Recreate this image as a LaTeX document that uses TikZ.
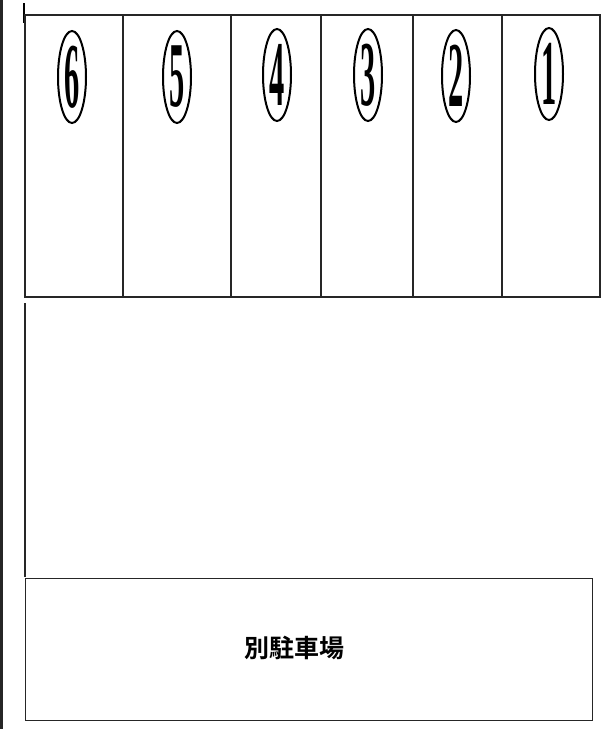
\documentclass[tikz,border=0pt]{standalone}
\usepackage{fontspec}
\setmainfont{Liberation Serif}
\newfontfamily\cjkbold{Noto Sans CJK JP Bold}
\usetikzlibrary{shapes.geometric}
\tikzset{
  frame/.style={draw=black!85, line width=1.2pt},
  circnum/.style={draw=black, line width=2pt, ellipse, minimum width=28pt, minimum height=92pt, inner sep=0pt},
}
\newcommand{\tallnum}[1]{\scalebox{0.95}[2.9]{\fontsize{32}{32}\selectfont\bfseries #1}}
\begin{document}
\begin{tikzpicture}[x=1pt,y=-1pt]
\useasboundingbox (0,0) rectangle (602,729);
\fill[white] (0,0) rectangle (602,729);
% dark left edge
\fill[black!85] (0,0) rectangle (3,729);
% cursor mark
\draw[black, line width=2pt] (24,3) -- (24,23);
% top row of six bays
\coordinate (tl) at (25,15);
\coordinate (br) at (600,297);
\draw[frame] (tl) rectangle (br);
\foreach \x in {123,231,321,413,502} {
  \draw[frame] (\x,15) -- (\x,297);
}
% left line of the middle area
\coordinate (ma) at (25,303);
\coordinate (mb) at (25,577);
\draw[frame] (ma) -- (mb);
% bottom box
\node[frame, rectangle, minimum width=567pt, minimum height=142pt, anchor=north west] (bottom) at (25,578) {};
\node[font=\cjkbold\fontsize{25}{25}\selectfont] (lbl) at (294,648) {別駐車場};
% circled numbers
\node[circnum] (n6) at (72,77) {\tallnum{6}};
\node[circnum] (n5) at (177,77) {\tallnum{5}};
\node[circnum] (n4) at (277,75) {\tallnum{4}};
\node[circnum] (n3) at (368,75) {\tallnum{3}};
\node[circnum] (n2) at (456,76) {\tallnum{2}};
\node[circnum] (n1) at (549,74) {\tallnum{1}};
\end{tikzpicture}
\end{document}
